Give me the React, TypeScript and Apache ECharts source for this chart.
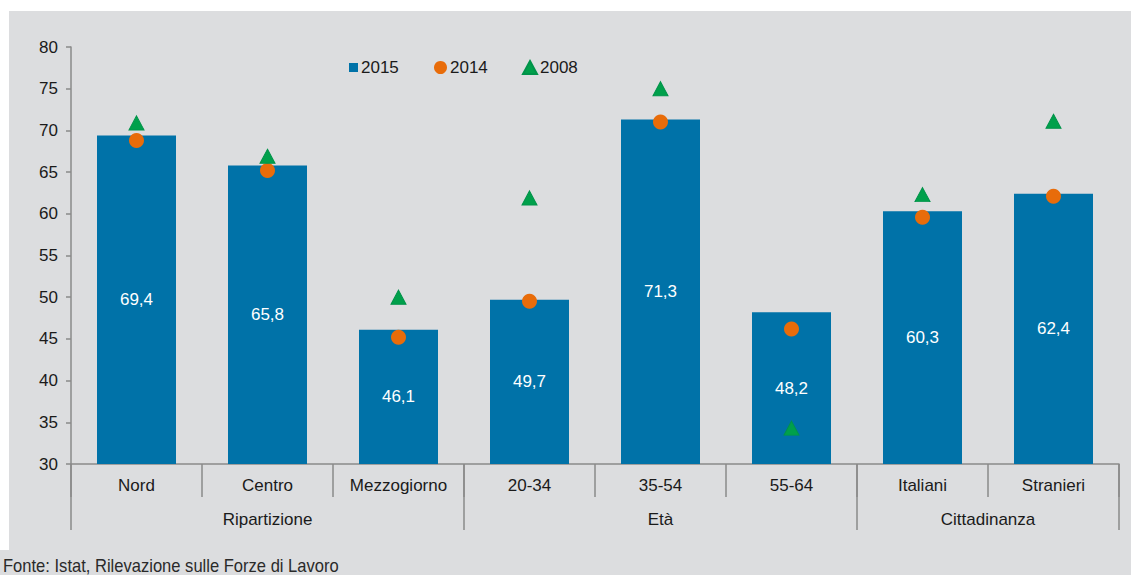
import React, { useEffect, useRef } from "react";
import * as echarts from "echarts";

const categories = ["Nord", "Centro", "Mezzogiorno", "20-34", "35-54", "55-64", "Italiani", "Stranieri"];
const groups = ["Ripartizione", "Età", "Cittadinanza"];
const groupSizes = [3, 3, 2];
const values2015 = [69.4, 65.8, 46.1, 49.7, 71.3, 48.2, 60.3, 62.4];
const values2014 = [68.8, 65.2, 45.2, 49.5, 71.0, 46.2, 59.6, 62.1];
const values2008 = [70.9, 66.9, 50.0, 61.9, 75.0, 34.3, 62.3, 71.1];
const yTicks = { min: 30, max: 80, interval: 5 };
const sourceNote = "Fonte: Istat, Rilevazione sulle Forze di Lavoro";

const BG = "#dcdddf";
const AXIS = "#8a8a8a";
const TEXT = "#1a1a1a";
const FONT = "Liberation Sans, Arial, sans-serif";
const FS = 17;

export default function App() {
  const ref = useRef<HTMLDivElement>(null);
  useEffect(() => {
    if (!ref.current) return;
    const chart = echarts.init(ref.current, null, { renderer: "svg" });

    const boundaries: number[] = [0];
    const centers: number[] = [];
    let acc = 0;
    groupSizes.forEach((s) => {
      centers.push(acc + s / 2);
      acc += s;
      boundaries.push(acc);
    });

    const legendBase = {
      orient: "horizontal" as const,
      top: 59,
      padding: 0,
      itemGap: 0,
      textStyle: { fontFamily: FONT, fontSize: FS, color: TEXT, padding: [0, 0, 0, -2] },
    };

    chart.setOption({
      animation: false,
      backgroundColor: "#ffffff",
      graphic: [
        { type: "rect", z: -10, shape: { x: 9, y: 11, width: 1122, height: 545 }, style: { fill: BG } },
        { type: "rect", z: -10, shape: { x: 0, y: 550, width: 1131, height: 25 }, style: { fill: BG } },
        {
          type: "text",
          x: 3,
          y: 557,
          scaleX: 0.92,
          style: {
            text: sourceNote,
            fontFamily: FONT,
            fontSize: 18,
            fill: "#2a2a2a",
          },
        },
      ],
      legend: [
        { ...legendBase, left: 349, itemWidth: 9, itemHeight: 9, data: [{ name: "2015", icon: "rect" }] },
        { ...legendBase, left: 434, itemWidth: 13, itemHeight: 13, data: [{ name: "2014", icon: "circle" }] },
        { ...legendBase, left: 522, itemWidth: 14, itemHeight: 13, data: [{ name: "2008", icon: "triangle" }] },
      ],
      grid: { left: 71, right: 12, top: 47, bottom: 111, containLabel: false },
      xAxis: [
        {
          type: "category",
          data: categories,
          position: "bottom",
          axisLine: { show: true, lineStyle: { color: AXIS, width: 1.5 } },
          axisTick: { show: true, length: 33, lineStyle: { color: AXIS, width: 1.5 } },
          axisLabel: { margin: 13, fontFamily: FONT, fontSize: FS, color: TEXT, interval: 0 },
        },
        {
          type: "value",
          min: 0,
          max: categories.length,
          position: "bottom",
          offset: 0,
          axisLine: { show: false },
          splitLine: { show: false },
          axisTick: { show: true, length: 66, customValues: boundaries, lineStyle: { color: AXIS, width: 1.5 } },
          axisLabel: {
            show: true,
            margin: 47,
            customValues: centers,
            fontFamily: FONT,
            fontSize: FS,
            color: TEXT,
            formatter: (v: number) => {
              const i = centers.findIndex((c) => Math.abs(c - v) < 1e-6);
              return i >= 0 ? groups[i] : "";
            },
          },
        },
      ],
      yAxis: {
        type: "value",
        min: yTicks.min,
        max: yTicks.max,
        interval: yTicks.interval,
        axisLine: { show: true, lineStyle: { color: AXIS, width: 1.5 } },
        axisTick: { show: true, length: 5, lineStyle: { color: AXIS, width: 1.5 } },
        splitLine: { show: false },
        axisLabel: { margin: 13, fontFamily: FONT, fontSize: FS, color: TEXT },
      },
      series: [
        {
          name: "2015",
          type: "bar",
          xAxisIndex: 0,
          data: values2015,
          barWidth: 79,
          itemStyle: { color: "#0072a8" },
          label: {
            show: true,
            position: "inside",
            color: "#ffffff",
            fontFamily: FONT,
            fontSize: FS,
            formatter: (p: any) => String(p.value).replace(".", ","),
          },
          z: 2,
        },
        {
          name: "2014",
          type: "scatter",
          xAxisIndex: 0,
          data: values2014,
          symbol: "circle",
          symbolSize: 15,
          itemStyle: { color: "#e86c0a", opacity: 1 },
          z: 3,
        },
        {
          name: "2008",
          type: "scatter",
          xAxisIndex: 0,
          data: values2008,
          symbol: "triangle",
          symbolSize: [15, 14],
          itemStyle: { color: "#00a04b", borderColor: "#00934a", borderWidth: 1, opacity: 1 },
          z: 3,
        },
      ],
    });
    return () => chart.dispose();
  }, []);

  return (
    <div
      ref={ref}
      style={{ position: "fixed", left: 0, top: 0, width: 1131, height: 575 }}
    />
  );
}
